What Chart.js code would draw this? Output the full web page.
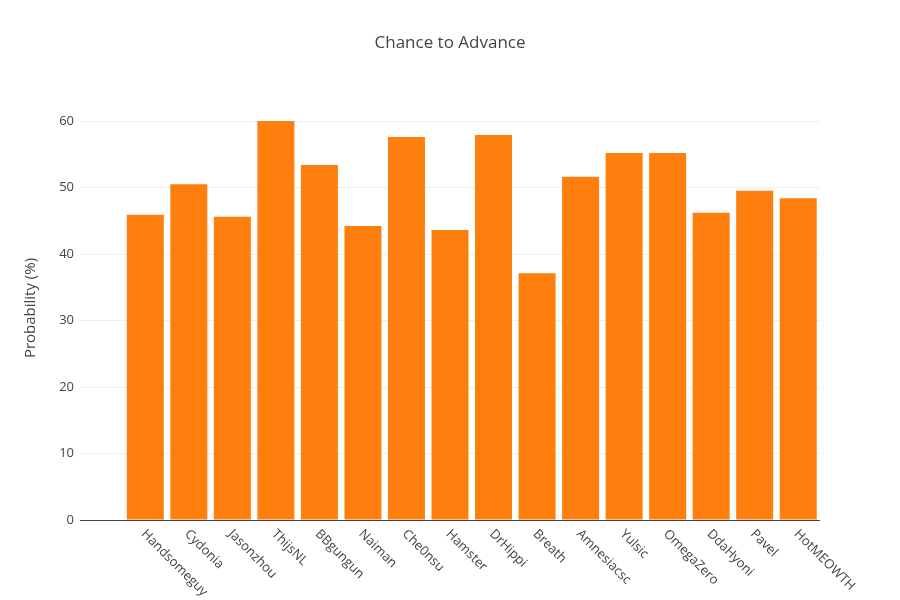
<!DOCTYPE html>
<html><head><meta charset="utf-8">
<script src="https://cdn.jsdelivr.net/npm/chart.js@4"></script>
<style>html,body{margin:0;padding:0;background:#fff}</style>
</head><body>
<canvas id="c" width="900" height="600" style="width:900px;height:600px"></canvas>
<script>
const categories = ["", "Handsomeguy","Cydonia","Jasonzhou","ThijsNL","BBgungun","Naiman","Che0nsu","Hamster","DrHippi","Breath","Amnesiacsc","Yulsic","OmegaZero","DdaHyoni","Pavel","HotMEOWTH"];
const probability = [null, 45.9,50.5,45.6,60.0,53.4,44.2,57.6,43.6,57.9,37.1,51.6,55.2,55.2,46.2,49.5,48.4];
const yTicks = [0,10,20,30,40,50,60];
const FONT = '"Open Sans", sans-serif';

const overlay = {
  id: 'overlay',
  afterDraw(chart) {
    const ctx = chart.ctx, xs = chart.scales.x, ys = chart.scales.y;
    ctx.save();
    ctx.fillStyle = '#444';
    ctx.font = '17px ' + FONT;
    ctx.textAlign = 'center'; ctx.textBaseline = 'middle';
    ctx.fillText('Chance to Advance', 450, 43);
    ctx.font = '15px ' + FONT;
    ctx.save(); ctx.translate(31, 308); ctx.rotate(-Math.PI/2);
    ctx.fillText('Probability (%)', 0, 0); ctx.restore();
    ctx.font = '13px ' + FONT;
    ctx.textAlign = 'left'; ctx.textBaseline = 'middle';
    categories.forEach((c, i) => {
      if (!c) return;
      const x = xs.getPixelForValue(i);
      ctx.save(); ctx.translate(x - 2, ys.bottom + 12); ctx.rotate(Math.PI/4);
      ctx.fillText(c, 0, 0); ctx.restore();
    });
    ctx.strokeStyle = '#444'; ctx.lineWidth = 1;
    ctx.beginPath(); ctx.moveTo(xs.left, ys.bottom + 0.5); ctx.lineTo(xs.right, ys.bottom + 0.5); ctx.stroke();
    ctx.restore();
  }
};

new Chart(document.getElementById('c'), {
  type: 'bar',
  data: { labels: categories, datasets: [{ data: probability, backgroundColor: '#ff7f0e', barPercentage: 0.85, categoryPercentage: 1 }] },
  options: {
    responsive: false, animation: false,
    layout: { padding: { top: 121, right: 80, left: 0, bottom: 0 } },
    plugins: { legend: { display: false }, title: { display: false }, tooltip: { enabled: false } },
    scales: {
      x: { grid: { display: false }, border: { display: false }, ticks: { display: false },
           afterFit: s => { s.height = 80; } },
      y: { min: 0, max: 60, afterBuildTicks: s => { s.ticks = yTicks.map(v => ({ value: v })); },
           grid: { color: '#eeeeee', drawTicks: false }, border: { display: false },
           ticks: { color: '#444', font: { family: FONT, size: 13 }, padding: 6 },
           afterFit: s => { s.width = 80; } }
    }
  },
  plugins: [overlay]
});
</script>
</body></html>
